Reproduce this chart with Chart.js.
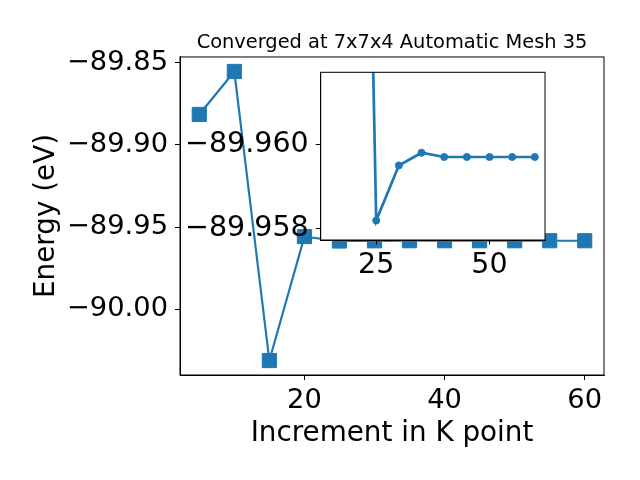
<!DOCTYPE html>
<html><head><meta charset="utf-8">
<script src="https://cdn.jsdelivr.net/npm/chart.js"></script>
<style>
html,body{margin:0;padding:0;background:#fff;}
#wrap{position:relative;width:640px;height:480px;}
canvas{position:absolute;left:0;top:0;}
</style></head><body>
<div id="wrap"><canvas id="main" width="640" height="480"></canvas><canvas id="inset" width="640" height="480"></canvas></div>
<script>
// ---- data ----
const kPoints = [5, 10, 15, 20, 25, 30, 35, 40, 45, 50, 55, 60];
const energies = [-89.8814, -89.8552, -90.0313, -89.9558, -89.95848, -89.95835, -89.95832, -89.95833, -89.95833, -89.95833, -89.95833, -89.95833];
const mainXTicks = [20, 40, 60];
const mainYTicks = [-89.85, -89.90, -89.95, -90.00];
const insetStart = 3;
const insetXMin = 12.75, insetXMax = 62.25;
const insetXTicks = [25, 50];
const insetYMin = -89.958526, insetYMax = -89.95813;
const insetYTickValues = [-89.9583, -89.9585];
const insetYTickLabels = ['\u221289.960', '\u221289.958'];
const titleText = 'Converged at 7x7x4 Automatic Mesh 35';
const xLabel = 'Increment in K point';
const yLabel = 'Energy (eV)';

const BLUE = '#1f77b4';
const FONT = 'DejaVu Sans';

function padRange(arr) {
  const mn = Math.min(...arr), mx = Math.max(...arr), r = mx - mn;
  return [mn - 0.05 * r, mx + 0.05 * r];
}
const frame = {
  id: 'frame',
  afterDraw(chart) {
    const {ctx, chartArea: a} = chart;
    ctx.save(); ctx.strokeStyle = '#000'; ctx.lineWidth = 1;
    ctx.strokeRect(a.left, a.top, a.right - a.left, a.bottom - a.top);
    ctx.restore();
  }
};
const whiteBg = {
  id: 'whiteBg',
  beforeDraw(chart) {
    const {ctx, chartArea: a} = chart;
    ctx.save(); ctx.fillStyle = '#fff';
    ctx.fillRect(a.left, a.top, a.right - a.left, a.bottom - a.top);
    ctx.restore();
  }
};
const minus = v => String(v).replace('-', '\u2212');

const [mxMin, mxMax] = padRange(kPoints);
const [myMin, myMax] = padRange(energies);

new Chart(document.getElementById('main'), {
  type: 'line',
  data: { datasets: [{
    data: kPoints.map((x, i) => ({x, y: energies[i]})),
    borderColor: BLUE, backgroundColor: BLUE, borderWidth: 2.2,
    pointStyle: 'rect', pointRadius: 10, pointHoverRadius: 10, pointBorderWidth: 1,
    tension: 0
  }]},
  options: {
    responsive: false, animation: false, events: [],
    layout: { padding: { left: 0, right: 36, top: 0, bottom: 0 } },
    plugins: {
      legend: { display: false }, tooltip: { enabled: false },
      title: { display: true, text: titleText, fullSize: false, color: '#000',
        font: { family: FONT, size: 19.4, weight: 'normal' }, padding: { top: 31.6, bottom: 2.1 } }
    },
    scales: {
      x: {
        type: 'linear', min: mxMin, max: mxMax,
        afterBuildTicks: s => { s.ticks = mainXTicks.map(v => ({value: v})); },
        afterFit: s => { s.height = 105; },
        grid: { drawOnChartArea: false, drawTicks: true, tickLength: 5, color: '#000' },
        border: { display: true, color: '#000' },
        ticks: { color: '#000', font: { family: FONT, size: 27.3 }, padding: 5, maxRotation: 0, autoSkip: false,
          callback: v => minus(v) },
        title: { display: true, text: xLabel, color: '#000', font: { family: FONT, size: 27.8 }, padding: { top: 0, bottom: 30 } }
      },
      y: {
        type: 'linear', min: myMin, max: myMax,
        afterBuildTicks: s => { s.ticks = mainYTicks.map(v => ({value: v})); },
        afterFit: s => { s.width = 180; },
        grid: { drawOnChartArea: false, drawTicks: true, tickLength: 5, color: '#000' },
        border: { display: true, color: '#000' },
        ticks: { color: '#000', font: { family: FONT, size: 27.3 }, padding: 7, autoSkip: false,
          callback: v => minus(v.toFixed(2)) },
        title: { display: true, text: yLabel, color: '#000', font: { family: FONT, size: 27.8 }, padding: { top: 30, bottom: 0 } }
      }
    }
  },
  plugins: [frame]
});

const insetK = kPoints.slice(insetStart);
const insetE = energies.slice(insetStart);

new Chart(document.getElementById('inset'), {
  type: 'line',
  data: { datasets: [{
    data: insetK.map((x, i) => ({x, y: insetE[i]})),
    borderColor: BLUE, backgroundColor: BLUE, borderWidth: 2.7,
    pointStyle: 'circle', pointRadius: 3.5, pointHoverRadius: 3.5, pointBorderWidth: 1,
    tension: 0, clip: 0
  }]},
  options: {
    responsive: false, animation: false, events: [],
    layout: { padding: { left: 0, right: 95, top: 72.3, bottom: 0 } },
    plugins: { legend: { display: false }, tooltip: { enabled: false } },
    scales: {
      x: {
        type: 'linear', min: insetXMin, max: insetXMax,
        afterBuildTicks: s => { s.ticks = insetXTicks.map(v => ({value: v})); },
        afterFit: s => { s.height = 240; },
        grid: { drawOnChartArea: false, drawTicks: true, tickLength: 4.5, color: '#000' },
        border: { display: true, color: '#000' },
        ticks: { color: '#000', font: { family: FONT, size: 28.5 }, padding: 4, maxRotation: 0, autoSkip: false }
      },
      y: {
        type: 'linear', min: insetYMin, max: insetYMax,
        afterBuildTicks: s => { s.ticks = insetYTickValues.map(v => ({value: v})); },
        afterFit: s => { s.width = 320.7; },
        grid: { drawOnChartArea: false, drawTicks: true, tickLength: 5, color: '#000' },
        border: { display: true, color: '#000' },
        ticks: { color: '#000', font: { family: FONT, size: 28.5 }, padding: 7, autoSkip: false,
          callback: (v, i) => insetYTickLabels[i] }
      }
    }
  },
  plugins: [whiteBg, frame]
});
</script>
</body></html>
